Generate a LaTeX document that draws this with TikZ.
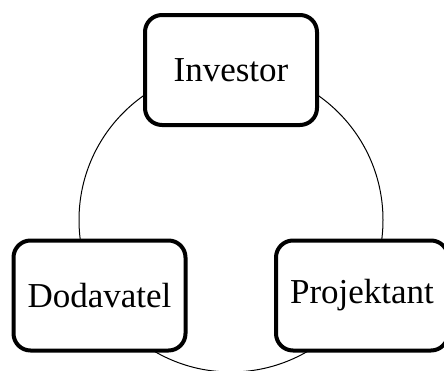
\documentclass[tikz,border=0pt]{standalone}
\usepackage{fontspec}
\setmainfont{Liberation Serif}
\usepackage{tikz}

\tikzset{
	party/.style={draw, fill=white, rounded corners=17pt, line width=4pt,
		minimum width=172pt, minimum height=110pt, inner sep=0pt,
		font=\fontsize{35}{42}\selectfont},
	ring/.style={line width=1pt}
}

\begin{document}
\begin{tikzpicture}[x=1pt,y=1pt]
	\useasboundingbox (0,0) rectangle (444,-370);
	\begin{scope}
		\clip (0,0) rectangle (444,-370);
		\coordinate (c) at (231,-220);
		\draw[ring] (c) circle (152);
		% the three parties
		\node[party] (inv) at (231,-70) {Investor};
		\node[party] (dod) at (99.5,-295.5) {Dodavatel};
		\node[party] (proj) at (362,-295.5) {Projektant};
	\end{scope}
\end{tikzpicture}
\end{document}
